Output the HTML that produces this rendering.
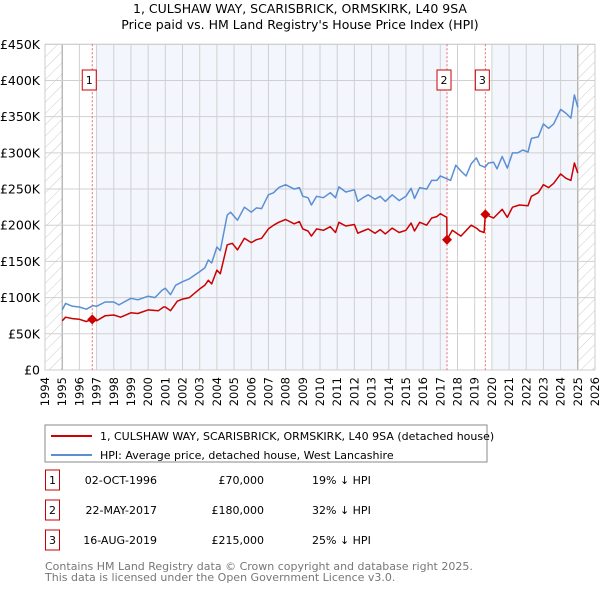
<!DOCTYPE html>
<html><head><meta charset="utf-8"><style>
body{margin:0;background:#fff;font-family:"Liberation Sans","DejaVu Sans",sans-serif;}
svg text{font-family:"DejaVu Sans","Liberation Sans",sans-serif;}
</style></head><body>
<svg id="c" width="600" height="590" xmlns="http://www.w3.org/2000/svg">
<defs><pattern id="h" width="8" height="8" patternUnits="userSpaceOnUse" patternTransform="rotate(45)"><line x1="0" y1="0" x2="0" y2="8" stroke="#ccc" stroke-width="1"/></pattern></defs>
<text x="300" y="13" text-anchor="middle" font-size="12.5">1, CULSHAW WAY, SCARISBRICK, ORMSKIRK, L40 9SA</text>
<text x="300" y="29" text-anchor="middle" font-size="12.5">Price paid vs. HM Land Registry's House Price Index (HPI)</text>
<g id="plot"></g>
<g>
<rect x="45" y="425" width="442" height="37" fill="#fff" stroke="#888"/>
<line x1="51" y1="436" x2="92" y2="436" stroke="#cc0000" stroke-width="2"/>
<text x="100" y="440" font-size="11">1, CULSHAW WAY, SCARISBRICK, ORMSKIRK, L40 9SA (detached house)</text>
<line x1="51" y1="455" x2="92" y2="455" stroke="#5b8fd4" stroke-width="2"/>
<text x="100" y="459" font-size="11">HPI: Average price, detached house, West Lancashire</text>
</g>
<g id="tbl" font-size="11"></g>
<text x="45" y="570" font-size="11" fill="#777">Contains HM Land Registry data © Crown copyright and database right 2025.</text>
<text x="45" y="581" font-size="11" fill="#777">This data is licensed under the Open Government Licence v3.0.</text>
</svg>
<script>
const hpiYears=[1995,1995.2,1995.6,1996,1996.4,1996.8,1997,1997.5,1998,1998.3,1999,1999.4,2000,2000.4,2000.8,2001,2001.3,2001.6,2002,2002.4,2003,2003.3,2003.5,2003.7,2004,2004.2,2004.6,2004.8,2005.2,2005.6,2006,2006.3,2006.6,2007,2007.3,2007.6,2008,2008.5,2008.8,2009,2009.3,2009.5,2009.8,2010.2,2010.6,2010.9,2011.1,2011.5,2012,2012.2,2012.5,2012.8,2013.2,2013.5,2013.8,2014.2,2014.6,2015,2015.3,2015.5,2015.8,2016.2,2016.5,2016.8,2017,2017.3,2017.6,2017.9,2018.2,2018.5,2018.8,2019.1,2019.3,2019.6,2019.8,2020.1,2020.3,2020.6,2020.9,2021.2,2021.5,2021.8,2022.1,2022.3,2022.7,2023,2023.3,2023.6,2024,2024.3,2024.6,2024.8,2025];
const hpiValues=[83,92,88,87,84,89,88,94,94,90,99,97,102,100,110,113,104,117,122,126,136,141,152,148,170,165,214,218,207,225,218,224,223,242,245,252,256,250,252,240,238,228,240,238,245,238,253,246,249,233,238,242,236,240,233,242,234,240,251,237,252,250,262,262,268,265,262,283,275,268,285,293,283,280,286,287,278,295,279,300,300,304,301,320,322,340,334,340,360,355,348,380,363];
const priceYears=[1995,1995.2,1995.6,1996,1996.4,1996.75,1997,1997.5,1998,1998.4,1999,1999.4,2000,2000.6,2000.9,2001,2001.3,2001.7,2002,2002.4,2003,2003.3,2003.5,2003.7,2004,2004.2,2004.6,2004.9,2005.2,2005.6,2006,2006.3,2006.6,2007,2007.3,2007.6,2008,2008.5,2008.8,2009,2009.3,2009.5,2009.8,2010.2,2010.6,2010.9,2011.1,2011.5,2012,2012.2,2012.5,2012.8,2013.2,2013.5,2013.8,2014.2,2014.6,2015,2015.3,2015.5,2015.8,2016.2,2016.5,2016.8,2017,2017.3,2017.38,2017.39,2017.7,2018.2,2018.8,2019.1,2019.3,2019.55,2019.62,2019.9,2020.1,2020.6,2020.9,2021.2,2021.6,2022.1,2022.3,2022.7,2023,2023.3,2023.6,2024,2024.3,2024.6,2024.8,2025];
const priceValues=[68,73,71,70,67,70,68,75,76,73,79,78,83,82,87,87,82,95,98,100,112,117,124,119,138,133,173,175,166,182,176,180,182,195,200,204,208,202,205,195,192,185,195,193,198,190,204,199,201,189,192,195,189,194,188,196,190,193,203,192,204,200,210,212,216,212,211,180,193,185,200,196,192,190,215,212,210,222,211,225,228,227,240,245,256,252,258,271,265,262,286,272];
const saleYears=[1996.75,2017.39,2019.62];
const salePrices=[70,180,215];
const saleLabels=["1","2","3"];
const saleDates=["02-OCT-1996","22-MAY-2017","16-AUG-2019"];
const salePriceText=["£70,000","£180,000","£215,000"];
const saleHpiText=["19% ↓ HPI","32% ↓ HPI","25% ↓ HPI"];
const yTicks=[0,50,100,150,200,250,300,350,400,450];
const yTickLabels=["£0","£50K","£100K","£150K","£200K","£250K","£300K","£350K","£400K","£450K"];
const xTicks=[];for(let y=1994;y<=2026;y++)xTicks.push(y);

const X0=45,X1=595,Y0=370,Y1=44.3;
const xs=y=>X0+(y-1994)*(X1-X0)/32;
const ys=v=>Y0-v*(Y0-Y1)/450;
const NS="http://www.w3.org/2000/svg";
const g=document.getElementById('plot');
function mk(t,a,p){const e=document.createElementNS(NS,t);for(const k in a)e.setAttribute(k,a[k]);(p||g).appendChild(e);return e;}
let e;
e=mk('rect',{x:X0,y:Y1,width:X1-X0,height:Y0-Y1,fill:'#fff'});


e=mk('rect',{x:xs(1997),y:Y1,width:xs(saleYears[1])-xs(1997),height:Y0-Y1,fill:'#f3f6fd'});


e=mk('rect',{x:xs(2020),y:Y1,width:xs(2025)-xs(2020),height:Y0-Y1,fill:'#f3f6fd'});


e=mk('rect',{x:X0,y:Y1,width:xs(1995)-X0,height:Y0-Y1,fill:'url(#h)'});


e=mk('rect',{x:xs(2025),y:Y1,width:X1-xs(2025),height:Y0-Y1,fill:'url(#h)'});


xTicks.forEach(y=>{
 e=mk('line',{x1:xs(y),x2:xs(y),y1:Y1,y2:Y0,stroke:(y==1995||y==2025)?'#999':'#d0d0d0','stroke-width':1});
 
 
 e=mk('text',{x:0,y:0,'font-size':11.5,'text-anchor':'end',transform:`translate(${xs(y)+4},377) rotate(-90)`});
 e.textContent=y;
 
 
});
yTicks.forEach((v,i)=>{
 e=mk('line',{x1:X0,x2:X1,y1:ys(v),y2:ys(v),stroke:'#d0d0d0','stroke-width':1});
 
 
 e=mk('text',{x:40,y:ys(v)+4.5,'font-size':12.5,'text-anchor':'end'});
 e.textContent=yTickLabels[i];
 
 
});
e=mk('rect',{x:X0,y:Y1,width:X1-X0,height:Y0-Y1,fill:'none',stroke:'#ccc'});


saleYears.forEach((y,i)=>{
 e=mk('line',{x1:xs(y),x2:xs(y),y1:Y1,y2:Y0,stroke:'#e66','stroke-width':1,'stroke-dasharray':'2,2'});
 
 
});
function path(xa,va,col,name){
 const d=xa.map((y,i)=>(i?'L':'M')+xs(y).toFixed(1)+','+ys(va[i]).toFixed(1)).join('');
 e=mk('path',{d:d,fill:'none',stroke:col,'stroke-width':1.5,'stroke-linejoin':'round'});
 
 
}
path(hpiYears,hpiValues,'#5b8fd4','hpi-line');
path(priceYears,priceValues,'#cc0000','price-paid-line');
saleYears.forEach((y,i)=>{
 const cx=xs(y),cy=ys(salePrices[i]);
 e=mk('path',{d:`M${cx},${cy-5}L${cx+5},${cy}L${cx},${cy+5}L${cx-5},${cy}Z`,fill:'#cc0000'});
 
 
 e=mk('rect',{x:cx-10,y:70,width:14,height:20,fill:'#fff',stroke:'#cc0000'});
 
 
 e=mk('text',{x:cx-3,y:84,'font-size':11,'text-anchor':'middle'});
 e.textContent=saleLabels[i];
 
 
});
const t=document.getElementById('tbl');
saleLabels.forEach((l,i)=>{
 const yy=483+i*30;
 e=mk('rect',{x:45.5,y:yy-13,width:14,height:20,fill:'#fff',stroke:'#cc0000'},t);
 
 
 e=mk('text',{x:52.5,y:yy+1,'text-anchor':'middle'},t);e.textContent=l;
 
 
 e=mk('text',{x:157,y:yy+1,'text-anchor':'end'},t);e.textContent=saleDates[i];
 
 
 e=mk('text',{x:264,y:yy+1,'text-anchor':'end'},t);e.textContent=salePriceText[i];
 
 
 e=mk('text',{x:312,y:yy+1},t);e.textContent=saleHpiText[i];
 
 
});
</script>
</body></html>
